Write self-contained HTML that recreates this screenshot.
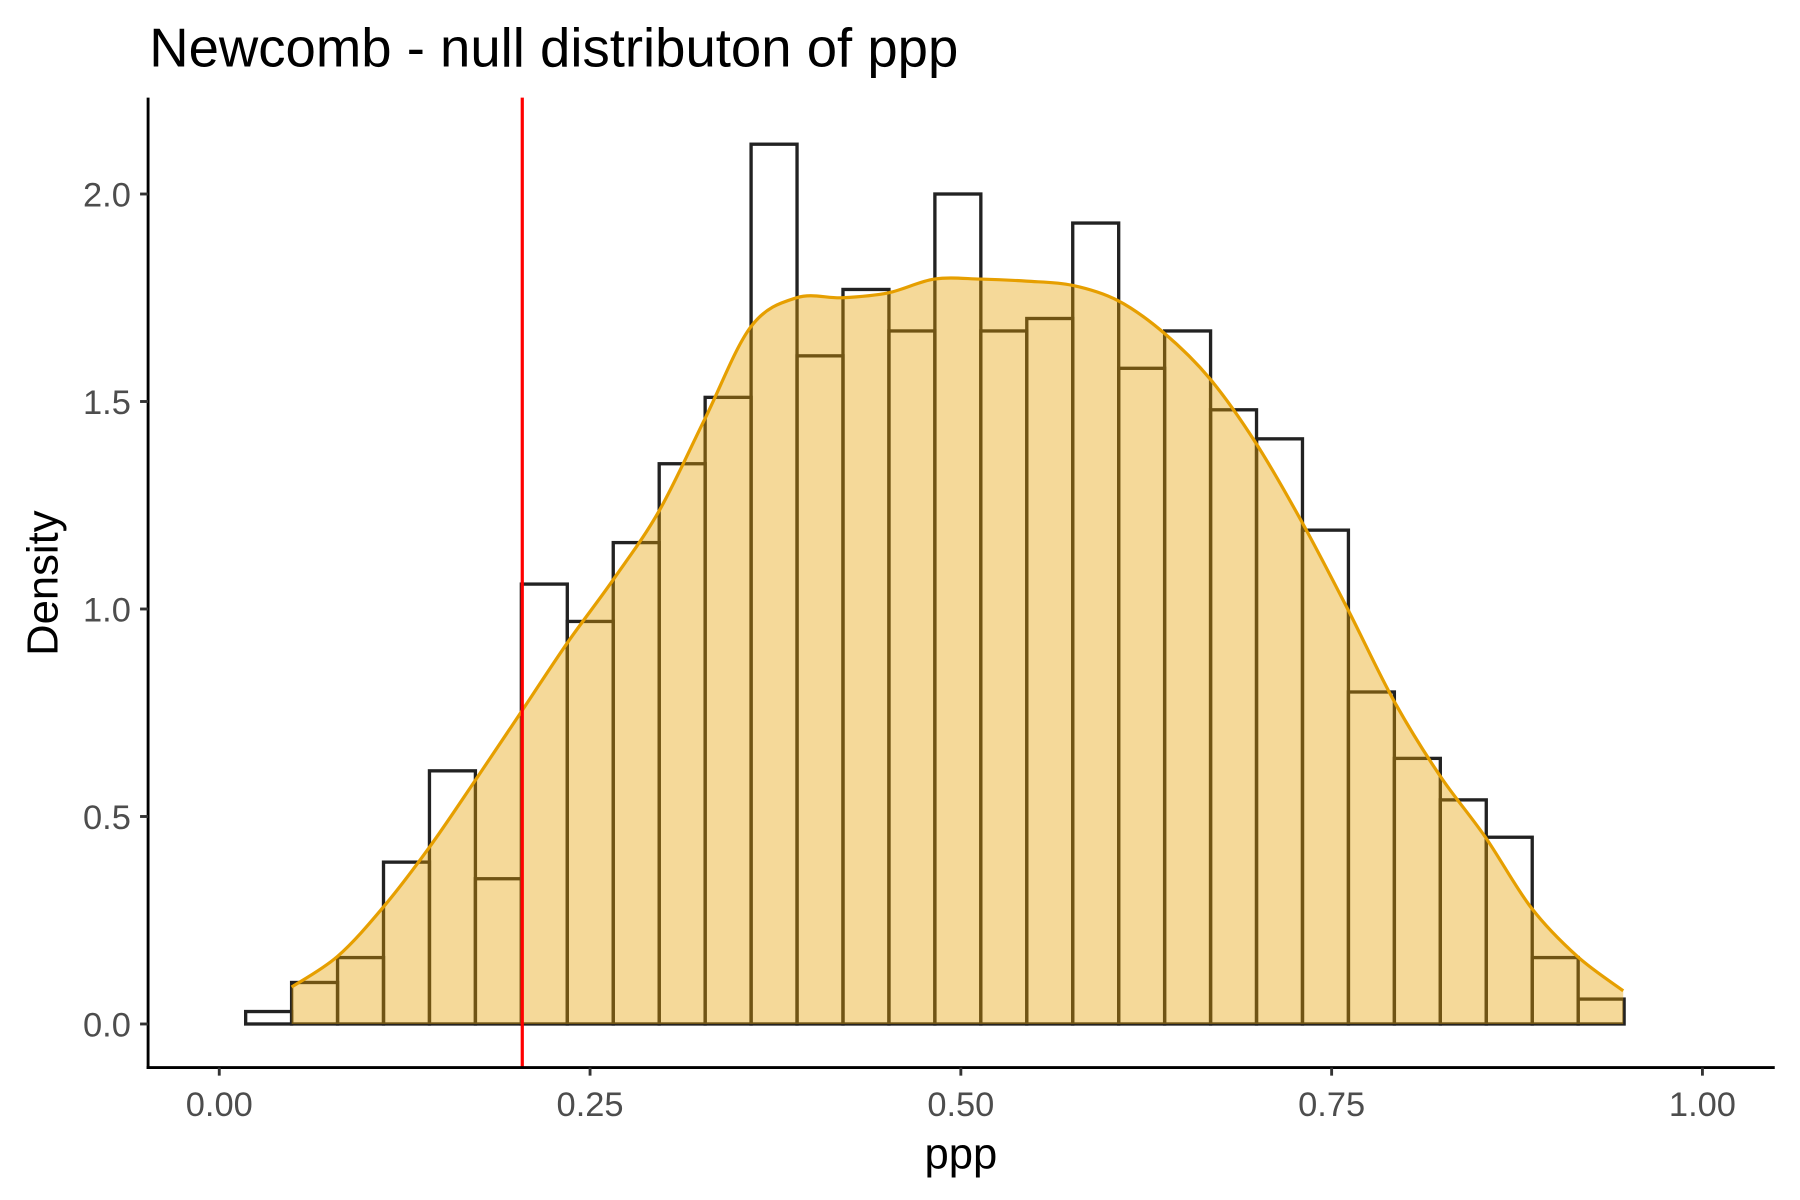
<!DOCTYPE html>
<html><head><meta charset="utf-8"><style>
html,body{margin:0;padding:0;background:#fff;}
svg{display:block;font-family:"Liberation Sans",Arial,sans-serif;}
</style></head><body>
<svg id="chart" width="1800" height="1200" viewBox="0 0 1568 1045.33" preserveAspectRatio="none" xmlns="http://www.w3.org/2000/svg">
<rect width="1568" height="1046" fill="#fff"/>
<text x="130" y="58" font-size="47.5" fill="#000">Newcomb - null distributon of ppp</text>
<g id="hist"></g>
<g id="dens"></g>
<g id="axes"></g>
<text transform="translate(50,508) rotate(-90)" text-anchor="middle" font-size="38" fill="#000">Density</text>
<text x="837" y="1018" text-anchor="middle" font-size="38" fill="#000">ppp</text>
</svg>
<script>
const binStart = 0.0178;
const binWidth = 0.03098;
const histValues = [0.03,0.10,0.16,0.39,0.61,0.35,1.06,0.97,1.16,1.35,1.51,2.12,1.61,1.77,1.67,2.00,1.67,1.70,1.93,1.58,1.67,1.48,1.41,1.19,0.80,0.64,0.54,0.45,0.16,0.06];
const densX = [0.0488,0.0798,0.1107,0.1417,0.1726,0.2036,0.2346,0.2655,0.2965,0.3274,0.3584,0.3893,0.4203,0.4512,0.4822,0.5132,0.5441,0.5751,0.6060,0.6370,0.6679,0.6989,0.7299,0.7608,0.7918,0.8227,0.8537,0.8846,0.9156,0.9466];
const densY = [0.089,0.163,0.282,0.426,0.587,0.752,0.918,1.07,1.236,1.458,1.68,1.75,1.75,1.762,1.795,1.795,1.79,1.78,1.743,1.665,1.555,1.40,1.21,1.0,0.78,0.60,0.45,0.28,0.163,0.08];
const refLine = 0.2043;
const xTicks = [0,0.25,0.5,0.75,1.0];
const xTickLabels = ["0.00","0.25","0.50","0.75","1.00"];
const yTicks = [0,0.5,1.0,1.5,2.0];
const yTickLabels = ["0.0","0.5","1.0","1.5","2.0"];

const NS="http://www.w3.org/2000/svg";
const sx = v => 191 + v*1292;
const sy = v => 892 - v*361.5;
function mk(tag, attrs, parent){const e=document.createElementNS(NS,tag);for(const k in attrs)e.setAttribute(k,attrs[k]);parent.appendChild(e);return e;}

const hist=document.getElementById('hist');
histValues.forEach((v,i)=>{
  const x0=sx(binStart+i*binWidth), x1=sx(binStart+(i+1)*binWidth);
  const r=mk('rect',{x:x0,y:sy(v),width:x1-x0,height:sy(0)-sy(v),fill:'none',stroke:'#222',"stroke-width":2.9},hist);
  
  
});

const pts=densX.map((x,i)=>[sx(x),sy(densY[i])]);
let d=`M${pts[0][0]},${pts[0][1]}`;
for(let i=0;i<pts.length-1;i++){
  const p0=pts[Math.max(0,i-1)],p1=pts[i],p2=pts[i+1],p3=pts[Math.min(pts.length-1,i+2)];
  const c1=[p1[0]+(p2[0]-p0[0])/6,p1[1]+(p2[1]-p0[1])/6];
  const c2=[p2[0]-(p3[0]-p1[0])/6,p2[1]-(p3[1]-p1[1])/6];
  d+=` C${c1[0]},${c1[1]} ${c2[0]},${c2[1]} ${p2[0]},${p2[1]}`;
}
const dens=document.getElementById('dens');
const area=mk('path',{d:d+` L${pts[pts.length-1][0]},${sy(0)} L${pts[0][0]},${sy(0)} Z`,fill:'#E69F00','fill-opacity':0.4,stroke:'none'},dens);


const line=mk('path',{d:d,fill:'none',stroke:'#E69F00','stroke-width':2.8},dens);


const red=mk('line',{x1:sx(refLine),x2:sx(refLine),y1:85,y2:930,stroke:'#FF0000','stroke-width':2.8},dens);



const axes=document.getElementById('axes');
const ya=mk('line',{x1:129,x2:129,y1:85,y2:931.25,stroke:'#000','stroke-width':2.5},axes);


const xa=mk('line',{x1:127.75,x2:1546,y1:930,y2:930,stroke:'#000','stroke-width':2.5},axes);


yTicks.forEach((v,i)=>{
  const t=mk('line',{x1:122,x2:129,y1:sy(v),y2:sy(v),stroke:'#333','stroke-width':2.5},axes);
  
  
  const l=mk('text',{x:114,y:sy(v)+11,'text-anchor':'end','font-size':30,fill:'#4d4d4d'},axes);
  l.textContent=yTickLabels[i];
  
  
});
xTicks.forEach((v,i)=>{
  const t=mk('line',{x1:sx(v),x2:sx(v),y1:930,y2:937,stroke:'#333','stroke-width':2.5},axes);
  
  
  const l=mk('text',{x:sx(v),y:972,'text-anchor':'middle','font-size':30,fill:'#4d4d4d'},axes);
  l.textContent=xTickLabels[i];
  
  
});
</script>
</body></html>
